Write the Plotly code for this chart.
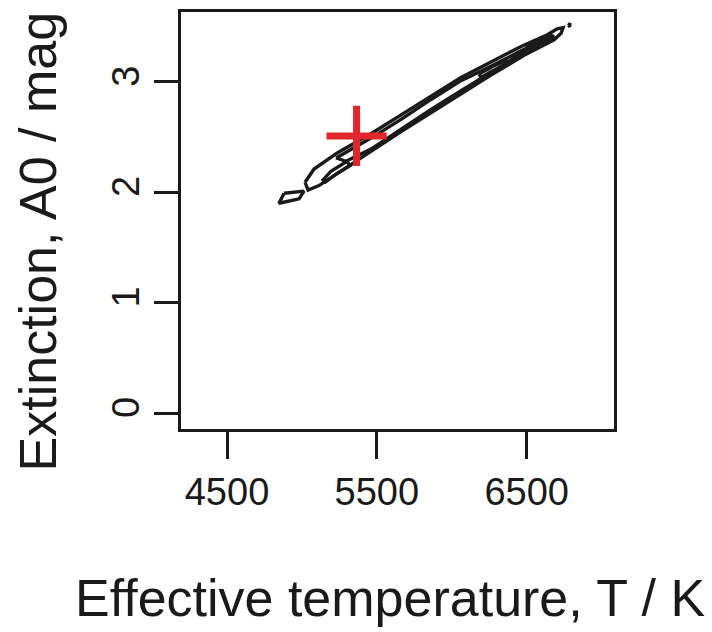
import plotly.graph_objects as go

# Contour outlines (T in K, A0 in mag)
outer_T = [5021, 5081, 5241, 5461, 5662, 5862, 6062, 6262, 6463, 6630, 6703, 6743,
           6730, 6683, 6483, 6262, 6062, 5862, 5662, 5461, 5328, 5194, 5114, 5041, 5021]
outer_A = [2.09, 2.21, 2.36, 2.53, 2.70, 2.87, 3.04, 3.18, 3.32, 3.42, 3.48, 3.49,
           3.44, 3.38, 3.24, 3.06, 2.89, 2.72, 2.55, 2.37, 2.25, 2.13, 2.06, 2.02, 2.09]

inner_T = [5228, 5461, 5662, 5862, 6062, 6262, 6463, 6543,
           6496, 6262, 6062, 5862, 5662, 5461, 5294, 5228]
inner_A = [2.31, 2.49, 2.66, 2.84, 3.01, 3.14, 3.28, 3.33,
           3.28, 3.09, 2.92, 2.75, 2.57, 2.39, 2.28, 2.31]

loop_a_T = [5134, 5194, 5301, 5321, 5234, 5154, 5134]
loop_a_A = [2.10, 2.19, 2.28, 2.24, 2.17, 2.09, 2.10]

loop_b_T = [6182, 6276, 6369, 6356, 6262, 6196, 6182]
loop_b_A = [3.07, 3.14, 3.20, 3.15, 3.09, 3.04, 3.07]

loop_c_T = [6496, 6663, 6683, 6516, 6496]
loop_c_A = [3.31, 3.42, 3.41, 3.29, 3.31]

island_T = [4881, 5014, 4981, 4847, 4881]
island_A = [1.99, 2.01, 1.94, 1.90, 1.99]

dot_T = [6778, 6790, 6786, 6778]
dot_A = [3.51, 3.53, 3.50, 3.51]

true_T = [5365]
true_A = [2.51]

x_ticks = [4500, 5500, 6500]
y_ticks = [0, 1, 2, 3]

FONT = "Liberation Sans, Arial, Helvetica, sans-serif"
INK = "#1a1a1a"

fig = go.Figure()
for tx, ay in [(outer_T, outer_A), (inner_T, inner_A), (loop_a_T, loop_a_A),
               (loop_b_T, loop_b_A), (loop_c_T, loop_c_A), (island_T, island_A),
               (dot_T, dot_A)]:
    fig.add_trace(go.Scatter(x=tx, y=ay, mode="lines",
                             line=dict(color=INK, width=3.4), hoverinfo="skip",
                             showlegend=False))

fig.add_trace(go.Scatter(x=true_T, y=true_A, mode="markers", showlegend=False,
                         marker=dict(symbol="cross-thin", size=43,
                                     line=dict(color="#e2242c", width=7))))

fig.update_layout(
    width=712, height=632,
    margin=dict(l=181, r=98, t=9, b=203),
    paper_bgcolor="white", plot_bgcolor="white",
    font=dict(family=FONT, color=INK),
    xaxis=dict(range=[4193, 7083], tickvals=x_ticks, ticktext=[str(v) for v in x_ticks],
               showgrid=False, zeroline=False, showline=True, linecolor=INK,
               linewidth=3, mirror=True, ticks="outside", ticklen=27, tickwidth=3,
               tickcolor=INK, tickfont=dict(size=38, family=FONT, color=INK)),
    yaxis=dict(range=[-0.1446, 3.632], tickvals=y_ticks, ticktext=[str(v) for v in y_ticks],
               showgrid=False, zeroline=False, showline=True, linecolor=INK,
               linewidth=3, mirror=True, ticks="outside", ticklen=24, tickwidth=3,
               tickcolor=INK, tickangle=-90,
               tickfont=dict(size=38, family=FONT, color=INK)),
    annotations=[
        dict(text="Effective temperature, T / K", xref="paper", yref="paper",
             x=0.483, y=-0.405, xanchor="center", yanchor="middle", showarrow=False,
             font=dict(size=52, family=FONT, color=INK)),
        dict(text="Extinction, A0 / mag", xref="paper", yref="paper",
             x=-0.33, y=0.45, xanchor="center", yanchor="middle", showarrow=False,
             textangle=-90, font=dict(size=52, family=FONT, color=INK)),
    ],
)

fig.write_html("out.html")
